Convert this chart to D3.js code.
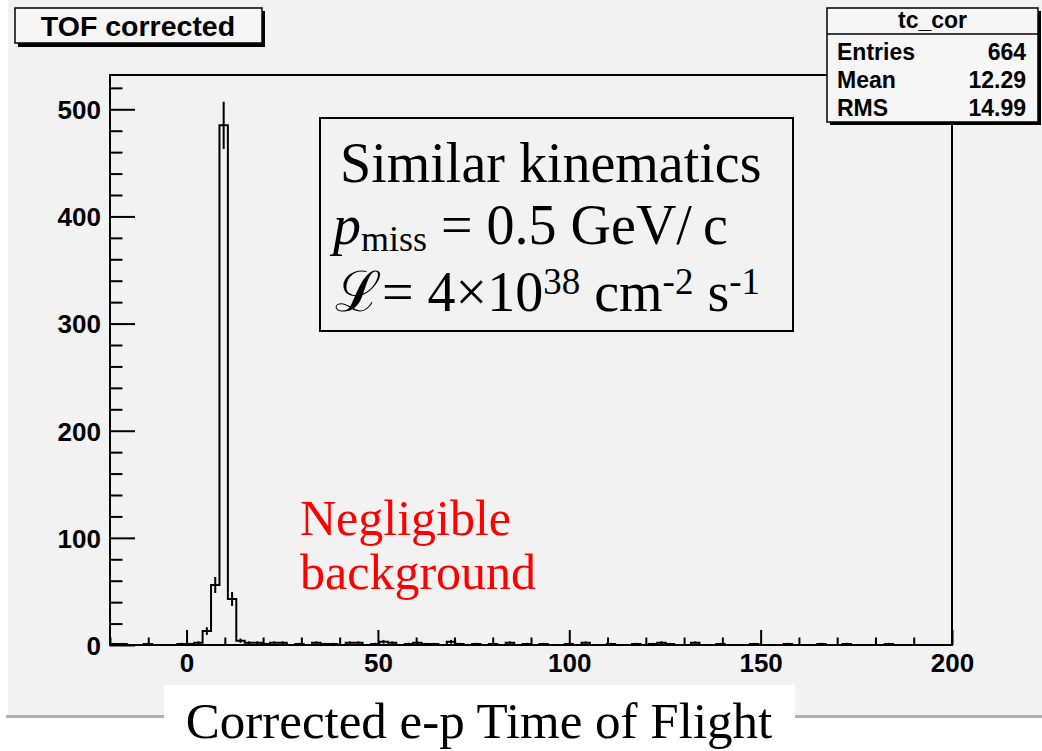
<!DOCTYPE html>
<html>
<head>
<meta charset="utf-8">
<script src="https://cdn.jsdelivr.net/npm/d3@7/dist/d3.min.js"></script>
<style>
  body { margin: 0; background: #ffffff; }
  svg { display: block; }
</style>
</head>
<body>
<svg id="chart" width="1042" height="751"></svg>
<script>
// Histogram binning: 100 bins between -20 and 200
const binLow = -20;
const binHigh = 200;
const nBins = 100;

// Counts per bin (tc_cor)
const counts = [
  1, 1, 0, 0, 1, 0, 0, 0, 1, 1,
  2, 13, 56, 485, 43, 4, 2, 2, 1, 2,
  2, 0, 1, 0, 2, 1, 1, 0, 2, 2,
  0, 1, 3, 2, 0, 1, 2, 1, 1, 0,
  3, 1, 0, 1, 0, 1, 0, 2, 0, 1,
  0, 1, 0, 0, 1, 0, 2, 0, 0, 1,
  0, 0, 1, 0, 1, 2, 1, 0, 0, 2,
  0, 0, 1, 0, 0, 0, 1, 0, 0, 0,
  1, 0, 0, 0, 1, 0, 0, 1, 0, 0,
  0, 0, 1, 0, 0, 0, 0, 0, 0, 0
];

const yMax = 532;

// Axis ticks
const xMajorTicks = [0, 50, 100, 150, 200];
const xMinorTicks = [-20, -10, 10, 20, 30, 40, 60, 70, 80, 90, 110, 120, 130, 140, 160, 170, 180, 190];
const yMajorTicks = [0, 100, 200, 300, 400, 500];
const yMinorTicks = [20, 40, 60, 80, 120, 140, 160, 180, 220, 240, 260, 280, 320, 340, 360, 380, 420, 440, 460, 480, 520];

// Text content
const histTitle = "TOF corrected";
const statsName = "tc_cor";
const statsLabels = ["Entries", "Mean", "RMS"];
const statsValues = ["664", "12.29", "14.99"];
const noteLines = ["Negligible", "background"];
const axisTitle = "Corrected e-p Time of Flight";

const svg = d3.select("#chart");
const sans = "'Liberation Sans', Arial, Helvetica, sans-serif";
const serif = "'Liberation Serif', 'Times New Roman', 'DejaVu Serif', serif";
const padColor = "#f2f2f2";

// Pad background and its bottom shadow
svg.append("rect").attr("x", 8).attr("y", 0).attr("width", 1034).attr("height", 716).attr("fill", padColor);
svg.append("rect").attr("x", 6).attr("y", 715).attr("width", 1036).attr("height", 3).attr("fill", "#b0b0b0");

// Frame geometry
const frameL = 110, frameR = 952, frameT = 75, frameB = 645;
const x = d3.scaleLinear().domain([binLow, binHigh]).range([frameL, frameR]);
const y = d3.scaleLinear().domain([0, yMax]).range([frameB, frameT]);
const binWidth = (binHigh - binLow) / nBins;
const edge = k => binLow + k * binWidth;

// Histogram outline (step line)
const stepPts = counts.map((c, k) => [edge(k), c]);
stepPts.push([edge(nBins), counts[nBins - 1]]);
const step = d3.line().x(d => x(d[0])).y(d => y(d[1])).curve(d3.curveStepAfter);
svg.append("path")
  .attr("d", step(stepPts))
  .attr("fill", "none").attr("stroke", "#000").attr("stroke-width", 2);

// Poisson error bars at bin centres
svg.append("g").selectAll("line")
  .data(counts.map((c, k) => ({ c, k })).filter(d => d.c > 0))
  .join("line")
  .attr("x1", d => x(edge(d.k) + binWidth / 2))
  .attr("x2", d => x(edge(d.k) + binWidth / 2))
  .attr("y1", d => y(Math.max(0, d.c - Math.sqrt(d.c))))
  .attr("y2", d => y(d.c + Math.sqrt(d.c)))
  .attr("stroke", "#000").attr("stroke-width", 2);

// Axes with inward ticks
function styleAxis(g) {
  g.select(".domain").remove();
  g.selectAll(".tick line").attr("stroke", "#000").attr("stroke-width", 2);
  g.selectAll("text").attr("font-family", sans).attr("font-weight", "bold").attr("font-size", 26).attr("fill", "#000");
}
svg.append("g").attr("transform", `translate(0,${frameB})`)
  .call(d3.axisBottom(x).tickValues(xMajorTicks).tickSize(-15).tickPadding(0).tickFormat(d3.format("d")))
  .call(styleAxis)
  .call(g => g.selectAll("text").attr("y", 27).attr("dy", 0));
svg.append("g").attr("transform", `translate(0,${frameB})`)
  .call(d3.axisBottom(x).tickValues(xMinorTicks).tickSize(-7.5).tickFormat(""))
  .call(styleAxis);
svg.append("g").attr("transform", `translate(${frameL},0)`)
  .call(d3.axisLeft(y).tickValues(yMajorTicks).tickSize(-25).tickPadding(0).tickFormat(d3.format("d")))
  .call(styleAxis)
  .call(g => g.selectAll("text").attr("x", -9).attr("dy", "0.36em"));
svg.append("g").attr("transform", `translate(${frameL},0)`)
  .call(d3.axisLeft(y).tickValues(yMinorTicks).tickSize(-12.5).tickFormat(""))
  .call(styleAxis);

// Frame
svg.append("rect").attr("x", frameL).attr("y", frameT).attr("width", frameR - frameL).attr("height", frameB - frameT)
  .attr("fill", "none").attr("stroke", "#000").attr("stroke-width", 2);

// Title box with shadow
svg.append("rect").attr("x", 18).attr("y", 11).attr("width", 247).attr("height", 36).attr("fill", "#000");
svg.append("rect").attr("x", 15).attr("y", 8).attr("width", 247).attr("height", 35)
  .attr("fill", "#f6f6f6").attr("stroke", "#000").attr("stroke-width", 1.5);
svg.append("text").attr("x", 138).attr("y", 36).attr("text-anchor", "middle")
  .attr("font-family", sans).attr("font-weight", "bold").attr("font-size", 28.5).text(histTitle);

// Statistics box with shadow
const sb = { x: 827, y: 8, w: 211, h: 114 };
svg.append("rect").attr("x", sb.x + 3).attr("y", sb.y + 3).attr("width", sb.w).attr("height", sb.h).attr("fill", "#000");
svg.append("rect").attr("x", sb.x).attr("y", sb.y).attr("width", sb.w).attr("height", sb.h)
  .attr("fill", "#f6f6f6").attr("stroke", "#000").attr("stroke-width", 1.5);
svg.append("line").attr("x1", sb.x).attr("x2", sb.x + sb.w).attr("y1", 34).attr("y2", 34)
  .attr("stroke", "#000").attr("stroke-width", 1.5);
svg.append("text").attr("x", sb.x + sb.w / 2).attr("y", 28).attr("text-anchor", "middle")
  .attr("font-family", sans).attr("font-weight", "bold").attr("font-size", 23).text(statsName);
const rowY = [60, 88, 116];
svg.append("g").selectAll("text").data(statsLabels).join("text")
  .attr("x", 837).attr("y", (d, i) => rowY[i])
  .attr("font-family", sans).attr("font-weight", "bold").attr("font-size", 23).text(d => d);
svg.append("g").selectAll("text").data(statsValues).join("text")
  .attr("x", 1026).attr("y", (d, i) => rowY[i]).attr("text-anchor", "end")
  .attr("font-family", sans).attr("font-weight", "bold").attr("font-size", 23).text(d => d);

// Kinematics box
svg.append("rect").attr("x", 320).attr("y", 118).attr("width", 473).attr("height", 213)
  .attr("fill", padColor).attr("stroke", "#000").attr("stroke-width", 2);
const fs = 56;
svg.append("text").attr("x", 340).attr("y", 182).attr("font-family", serif).attr("font-size", fs)
  .text("Similar kinematics");
const l2 = svg.append("text").attr("x", 333).attr("y", 244).attr("font-family", serif).attr("font-size", fs);
l2.append("tspan").attr("font-style", "italic").text("p");
l2.append("tspan").attr("font-size", 36).attr("dy", 7).text("miss");
l2.append("tspan").attr("dy", -7).text(" = 0.5 GeV/\u2009c");
const l3 = svg.append("text").attr("x", 335).attr("y", 311).attr("font-family", serif).attr("font-size", fs);
l3.append("tspan").text("\u2112");
l3.append("tspan").text("= 4\u00d710");
l3.append("tspan").attr("font-size", 37).attr("dy", -17).text("38");
l3.append("tspan").attr("dy", 17).text(" cm");
l3.append("tspan").attr("font-size", 37).attr("dy", -17).text("-2");
l3.append("tspan").attr("dy", 17).text(" s");
l3.append("tspan").attr("font-size", 37).attr("dy", -17).text("-1");

// Red annotation
svg.append("g").selectAll("text").data(noteLines).join("text")
  .attr("x", 300).attr("y", (d, i) => 535 + i * 54)
  .attr("font-family", serif).attr("font-size", 50).attr("fill", "#ff0000").text(d => d);

// Axis title on white panel
svg.append("rect").attr("x", 164).attr("y", 685).attr("width", 631).attr("height", 66).attr("fill", "#ffffff");
svg.append("text").attr("x", 479).attr("y", 738).attr("text-anchor", "middle")
  .attr("font-family", serif).attr("font-size", 51).text(axisTitle);
</script>
</body>
</html>
